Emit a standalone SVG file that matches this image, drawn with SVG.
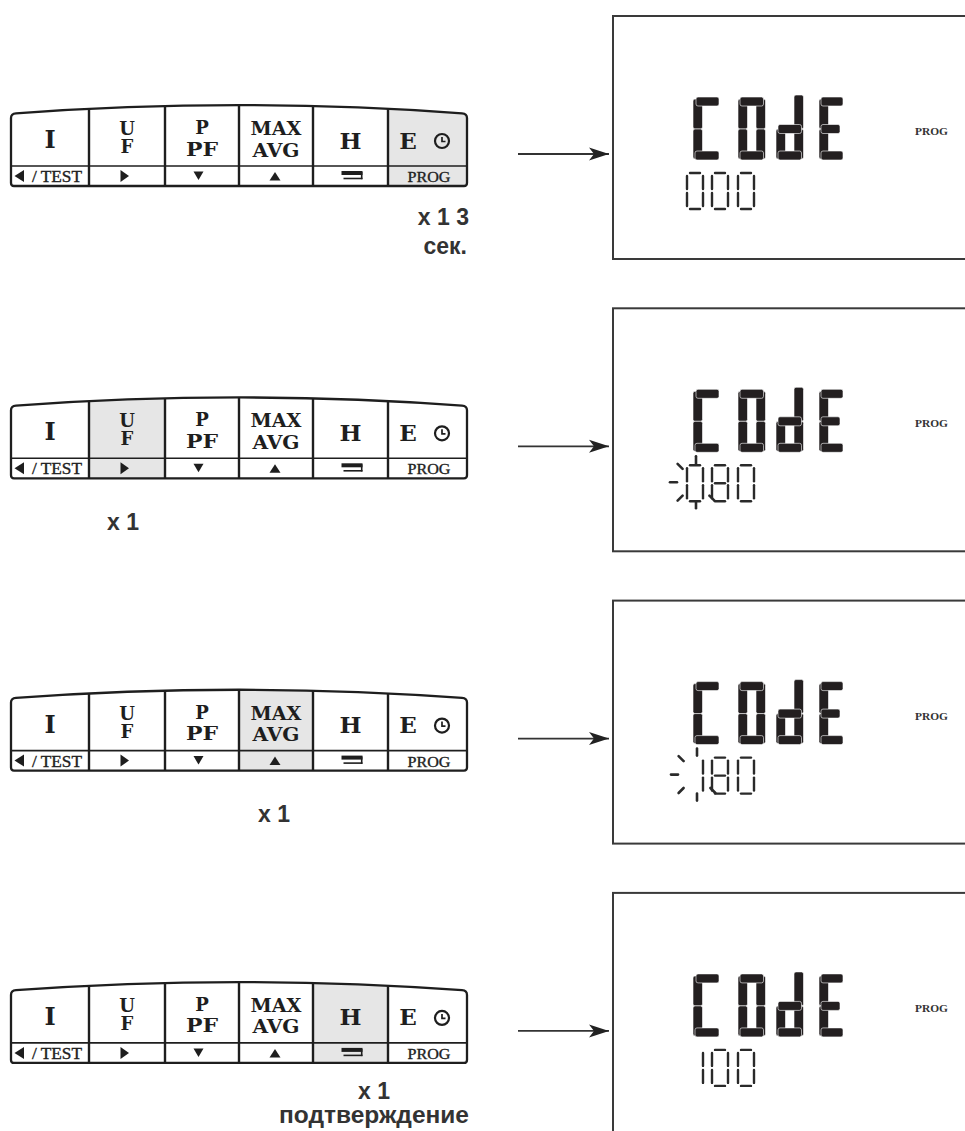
<svg xmlns="http://www.w3.org/2000/svg" xmlns:xlink="http://www.w3.org/1999/xlink" width="965" height="1131" viewBox="0 0 965 1131">
<style>
.kpo{fill:none;stroke:#1e1e1e;stroke-width:2.3}
.div{stroke:#1e1e1e;stroke-width:2.4}
.sep{stroke:#1e1e1e;stroke-width:1.6}
.kt{font-family:"DejaVu Serif","Liberation Serif",serif;font-weight:bold;fill:#1e1e1e;text-anchor:middle}
.bt{font-family:"Liberation Serif",serif;fill:#222;stroke:#222;stroke-width:0.35;text-anchor:middle}
.ico{fill:#1e1e1e}
.hl{fill:#e6e6e6}
.lbl{font-family:"Liberation Sans",Arial,sans-serif;font-weight:bold;fill:#333;font-size:23px}
.lcd{fill:#fff;stroke:#3a3a3a;stroke-width:2}
.seg rect{fill:#231f20;stroke:#fff;stroke-width:0.6}
.sd line{stroke:#2a2a2a;stroke-width:2.4;stroke-linecap:round}
.ray line{stroke:#2a2a2a;stroke-width:2.6;stroke-linecap:round}
.prog{font-family:"Liberation Serif",serif;font-weight:bold;fill:#333;font-size:11px}
.arr{stroke:#333;stroke-width:1.8;fill:none}
</style>
<defs>
<marker id="ah" markerUnits="userSpaceOnUse" markerWidth="22" markerHeight="14" refX="20" refY="7" orient="auto">
<path d="M0,0.5 L20,7 L0,13.5 L5,7 Z" fill="#222"/>
</marker>
<clipPath id="kpclip"><path d="M11,183 L11,118 Q11,113.6 16,113.3 Q239,97 462,113.3 Q467,113.6 467,118 L467,183 Q467,186 464,186 L14,186 Q11,186 11,183 Z"/></clipPath>
<g id="kp">
<path class="kpo" d="M11,183 L11,118 Q11,113.6 16,113.3 Q239,97 462,113.3 Q467,113.6 467,118 L467,183 Q467,186 464,186 L14,186 Q11,186 11,183 Z"/>
<line class="div" x1="89" y1="108.8" x2="89" y2="186"/>
<line class="div" x1="165" y1="106" x2="165" y2="186"/>
<line class="div" x1="239" y1="105.2" x2="239" y2="186"/>
<line class="div" x1="313" y1="106" x2="313" y2="186"/>
<line class="div" x1="388" y1="108.8" x2="388" y2="186"/>
<line class="sep" x1="11" y1="166" x2="467" y2="166"/>
<text class="kt" x="50" y="148" font-size="24">I</text>
<text class="kt" x="127" y="135" font-size="18">U</text>
<text class="kt" x="127" y="153" font-size="18">F</text>
<text class="kt" x="202" y="134" font-size="18">P</text>
<text class="kt" x="202" y="155.5" font-size="18" textLength="32" lengthAdjust="spacingAndGlyphs">PF</text>
<text class="kt" x="276" y="135" font-size="19" textLength="51" lengthAdjust="spacingAndGlyphs">MAX</text>
<text class="kt" x="276" y="156.5" font-size="19" textLength="47" lengthAdjust="spacingAndGlyphs">AVG</text>
<text class="kt" x="350.5" y="148.5" font-size="23" textLength="22" lengthAdjust="spacingAndGlyphs">H</text>
<text class="kt" x="408" y="148.5" font-size="23">E</text>
<circle cx="442" cy="141" r="7" fill="none" stroke="#1e1e1e" stroke-width="2.2"/>
<path d="M442,137 L442,141.5 L445.5,141.5" fill="none" stroke="#1e1e1e" stroke-width="1.7"/>
<polygon class="ico" points="14.5,176 24,170 24,182"/>
<text class="bt" x="57" y="182" font-size="16" textLength="50" lengthAdjust="spacingAndGlyphs">/ TEST</text>
<polygon class="ico" points="120.5,170 129,176 120.5,182"/>
<polygon class="ico" points="193.5,171.5 203.5,171.5 198.5,180"/>
<polygon class="ico" points="269.5,180.5 280.5,180.5 275,172"/>
<rect class="ico" x="341.5" y="171" width="21" height="4"/>
<line x1="343.5" y1="178.5" x2="362.5" y2="178.5" stroke="#1e1e1e" stroke-width="1.6"/>
<line x1="361.7" y1="172" x2="361.7" y2="179.2" stroke="#1e1e1e" stroke-width="1.6"/>
<text class="bt" x="429" y="182" font-size="15" fill="#333" textLength="43" lengthAdjust="spacingAndGlyphs">PROG</text>
</g>
<g id="chC" class="seg"><rect x="1" y="2" width="9.5" height="30" rx="2"/><rect x="1" y="32" width="9.5" height="30" rx="2"/><rect x="4" y="0" width="23" height="9" rx="2"/><rect x="3" y="54" width="24" height="9" rx="2"/></g>
<g id="chO" class="seg"><rect x="0" y="2" width="9.5" height="30" rx="2"/><rect x="0" y="32" width="9.5" height="30" rx="2"/><rect x="18" y="2" width="9.5" height="30" rx="2"/><rect x="18" y="32" width="9.5" height="30" rx="2"/><rect x="2" y="0" width="23.5" height="9" rx="2"/><rect x="2" y="54" width="23.5" height="9" rx="2"/></g>
<g id="chd" class="seg"><rect x="18" y="-2" width="9.5" height="34" rx="2"/><rect x="18" y="32" width="9.5" height="30" rx="2"/><rect x="0" y="32" width="9.5" height="30" rx="2"/><rect x="2" y="27.5" width="23.5" height="9" rx="2"/><rect x="2" y="54" width="23.5" height="9" rx="2"/></g>
<g id="chE" class="seg"><rect x="0" y="2" width="9.5" height="30" rx="2"/><rect x="0" y="32" width="9.5" height="30" rx="2"/><rect x="2" y="0" width="22" height="9" rx="2"/><rect x="2" y="27.5" width="19" height="9" rx="2"/><rect x="2" y="54" width="22" height="9" rx="2"/></g>
<g id="code">
<use xlink:href="#chC" x="692" y="97"/>
<use xlink:href="#chO" x="738" y="97"/>
<use xlink:href="#chd" x="776" y="97"/>
<use xlink:href="#chE" x="819" y="97"/>
</g>
<g id="s0" class="sd"><line x1="3" y1="0" x2="13" y2="0"/><line x1="16" y1="3" x2="16" y2="16"/><line x1="16" y1="20" x2="16" y2="33"/><line x1="3" y1="36" x2="13" y2="36"/><line x1="0" y1="20" x2="0" y2="33"/><line x1="0" y1="3" x2="0" y2="16"/></g>
<g id="s8" class="sd"><line x1="3" y1="0" x2="13" y2="0"/><line x1="16" y1="3" x2="16" y2="16"/><line x1="16" y1="20" x2="16" y2="33"/><line x1="3" y1="36" x2="13" y2="36"/><line x1="0" y1="20" x2="0" y2="33"/><line x1="0" y1="3" x2="0" y2="16"/><line x1="3" y1="18" x2="13" y2="18"/></g>
<g id="s1" class="sd"><line x1="16" y1="3" x2="16" y2="16"/><line x1="16" y1="20" x2="16" y2="33"/></g>
<g id="rays" class="ray"><line x1="0" y1="-19" x2="0" y2="-26"/><line x1="-13.4" y1="-13.4" x2="-18.4" y2="-18.4"/><line x1="-19" y1="0" x2="-26" y2="0"/><line x1="-13.4" y1="13.4" x2="-18.4" y2="18.4"/><line x1="0" y1="19" x2="0" y2="26"/><line x1="13.4" y1="13.4" x2="18.4" y2="18.4"/></g>
</defs>
<rect width="965" height="1131" fill="#fff"/>

<g id="keypad-1"><rect class="hl" clip-path="url(#kpclip)" x="388" y="95" width="82" height="95"/><use xlink:href="#kp"/></g>
<g id="keypad-2" transform="translate(0,292.3)"><rect class="hl" clip-path="url(#kpclip)" x="89" y="95" width="76" height="95"/><use xlink:href="#kp"/></g>
<g id="keypad-3" transform="translate(0,584.6)"><rect class="hl" clip-path="url(#kpclip)" x="239" y="95" width="74" height="95"/><use xlink:href="#kp"/></g>
<g id="keypad-4" transform="translate(0,876.9)"><rect class="hl" clip-path="url(#kpclip)" x="313" y="95" width="75" height="95"/><use xlink:href="#kp"/></g>

<g id="label-1"><text class="lbl" x="469" y="225" text-anchor="end">x 1 3</text><text class="lbl" x="467" y="254" text-anchor="end">сек.</text></g>
<g id="label-2"><text class="lbl" x="123" y="530" text-anchor="middle">x 1</text></g>
<g id="label-3"><text class="lbl" x="274" y="822" text-anchor="middle">x 1</text></g>
<g id="label-4"><text class="lbl" x="374" y="1099" text-anchor="middle">x 1</text><text class="lbl" x="374" y="1123" text-anchor="middle" textLength="190" lengthAdjust="spacingAndGlyphs">подтверждение</text></g>

<g id="display-1">
<rect class="lcd" x="613" y="16" width="360" height="243"/>
<use xlink:href="#code"/>
<text class="prog" x="915" y="135" textLength="33" lengthAdjust="spacingAndGlyphs">PROG</text>
<use xlink:href="#s0" x="687" y="173"/><use xlink:href="#s0" x="712" y="173"/><use xlink:href="#s0" x="738" y="173"/>
</g>
<g id="display-2" transform="translate(0,292.3)">
<rect class="lcd" x="613" y="16" width="360" height="243"/>
<use xlink:href="#code"/>
<text class="prog" x="915" y="135" textLength="33" lengthAdjust="spacingAndGlyphs">PROG</text>
<use xlink:href="#s0" x="687" y="173"/><use xlink:href="#s8" x="712" y="173"/><use xlink:href="#s0" x="738" y="173"/>
<use xlink:href="#rays" x="696" y="190"/>
</g>
<g id="display-3" transform="translate(0,584.6)">
<rect class="lcd" x="613" y="16" width="360" height="243"/>
<use xlink:href="#code"/>
<text class="prog" x="915" y="135" textLength="33" lengthAdjust="spacingAndGlyphs">PROG</text>
<use xlink:href="#s1" x="687" y="173"/><use xlink:href="#s8" x="712" y="173"/><use xlink:href="#s0" x="738" y="173"/>
<use xlink:href="#rays" x="697" y="190"/>
</g>
<g id="display-4" transform="translate(0,876.9)">
<rect class="lcd" x="613" y="16" width="360" height="243"/>
<use xlink:href="#code"/>
<text class="prog" x="915" y="135" textLength="33" lengthAdjust="spacingAndGlyphs">PROG</text>
<use xlink:href="#s1" x="687" y="173"/><use xlink:href="#s0" x="712" y="173"/><use xlink:href="#s0" x="738" y="173"/>
</g>

<g id="connectors">
<line class="arr" x1="518" y1="154" x2="609" y2="154" marker-end="url(#ah)"/>
<line class="arr" x1="518" y1="446.3" x2="609" y2="446.3" marker-end="url(#ah)"/>
<line class="arr" x1="518" y1="738.6" x2="609" y2="738.6" marker-end="url(#ah)"/>
<line class="arr" x1="518" y1="1030.9" x2="609" y2="1030.9" marker-end="url(#ah)"/>
</g>
</svg>
